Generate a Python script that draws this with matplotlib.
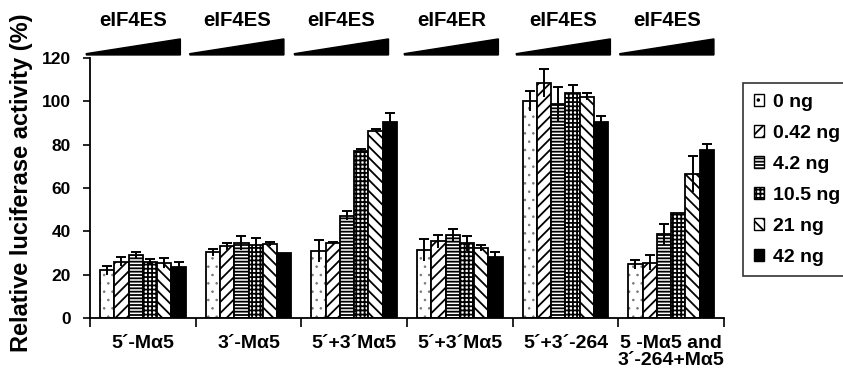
import numpy as np
import matplotlib.pyplot as plt
from matplotlib.patches import Polygon, Patch

plt.rcParams['font.family'] = ['Liberation Sans', 'DejaVu Sans']
plt.rcParams['font.weight'] = 'bold'
plt.rcParams['hatch.linewidth'] = 1.3

# constructs on the x axis
constructs = ["5´-Mα5", "3´-Mα5", "5´+3´Mα5", "5´+3´Mα5", "5´+3´-264",
              "5 -Mα5 and\n3´-264+Mα5"]
factors = ["eIF4ES", "eIF4ES", "eIF4ES", "eIF4ER", "eIF4ES", "eIF4ES"]
doses = ["0 ng", "0.42 ng", "4.2 ng", "10.5 ng", "21 ng", "42 ng"]

# luciferase activity (%) per dose, one value per construct
act_0 = [22.0, 30.3, 31.0, 31.4, 100.3, 24.8]
act_042 = [26.0, 33.0, 34.5, 35.5, 108.3, 25.5]
act_42 = [29.0, 34.5, 47.2, 38.3, 98.7, 38.6]
act_105 = [25.8, 33.7, 77.3, 34.5, 103.7, 48.6]
act_21 = [25.5, 34.0, 86.5, 32.2, 102.1, 66.5]
act_420 = [23.5, 30.2, 90.5, 28.3, 90.6, 77.5]

err_0 = [2.0, 1.5, 5.0, 5.0, 4.6, 2.0]
err_042 = [2.0, 1.8, 0.5, 3.0, 6.5, 3.5]
err_42 = [1.5, 3.3, 2.0, 2.8, 8.0, 5.0]
err_105 = [1.5, 3.3, 0.7, 3.5, 4.0, 0.0]
err_21 = [2.3, 1.0, 0.5, 1.5, 1.6, 8.3]
err_420 = [2.3, 0.0, 4.0, 2.3, 2.4, 3.0]

values = [act_0, act_042, act_42, act_105, act_21, act_420]
errors = [err_0, err_042, err_42, err_105, err_21, err_420]
hatches = ["..", "///", "-----", "++++", "\\\\\\", None]
faces = ["white", "white", "white", "white", "white", "black"]

# horizontal shift of each dose wedge relative to its group centre
wedge_shift = [-0.09, -0.11, -0.12, -0.08, -0.02, -0.04]

fig = plt.figure(figsize=(8.43, 3.79), dpi=100)
ax = fig.add_axes([0.1068, 0.161, 0.752, 0.686])

x = np.arange(len(constructs))
width = 0.135
for i, (vals, errs) in enumerate(zip(values, errors)):
    pos = x + (i - 2.5) * width
    if i == 0:
        # fine grey stipple, outline drawn on top
        with plt.rc_context({'hatch.linewidth': 0.6}):
            ax.bar(pos, vals, width, color="white", edgecolor="#777777",
                   linewidth=0, hatch=hatches[i], zorder=2)
        ax.bar(pos, vals, width, color="none", edgecolor="black",
               linewidth=1.3, zorder=2)
    else:
        ax.bar(pos, vals, width, color=faces[i], edgecolor="black",
               linewidth=1.3, hatch=hatches[i], zorder=2)
    ax.errorbar(pos, vals, yerr=errs, fmt="none", ecolor="black",
                elinewidth=1.4, capsize=0, zorder=3)
    top = np.array(vals) + np.array(errs)
    has_err = np.array(errs) > 0
    ax.plot(pos[has_err], top[has_err], linestyle="none", marker="_",
            markersize=7, markeredgewidth=1.4, color="black", zorder=3,
            clip_on=False)

ax.set_xlim(-0.5, len(constructs) - 0.5)
ax.set_ylim(0, 120)
ax.set_yticks(np.arange(0, 121, 20))
ax.tick_params(axis="y", labelsize=12.5, length=5, width=1.2,
               direction="out", pad=9)
ax.set_xticks(x)
ax.set_xticklabels(constructs, fontsize=14, linespacing=1.05)
ax.tick_params(axis="x", which="major", length=0, pad=12)
ax.set_xticks(np.arange(-0.5, len(constructs)), minor=True)
ax.tick_params(axis="x", which="minor", length=6.5, width=1.2,
               direction="out")
for s in ("top", "right"):
    ax.spines[s].set_visible(False)
for s in ("left", "bottom"):
    ax.spines[s].set_linewidth(1.3)

fig.text(22 / 843, 0.518, "Relative luciferase activity (%)", rotation=90,
         ha="center", va="center", fontsize=17, fontweight="bold")

# factor titles and increasing-dose wedges above each group
for xi, name, dx in zip(x, factors, wedge_shift):
    x0, x1 = xi + dx - 0.445, xi + dx + 0.445
    wedge = Polygon([(x0, 121.4), (x1, 121.4), (x1, 128.8), (x0, 122.0)],
                    closed=True, facecolor="black", edgecolor="black",
                    linewidth=1, clip_on=False, transform=ax.transData)
    ax.add_patch(wedge)
    ax.text((x0 + x1) / 2, 137.5, name, ha="center", va="center",
            fontsize=14.7, fontweight="bold", clip_on=False)

handles = [Patch(facecolor=f, edgecolor="black", linewidth=1.0, hatch=h,
                 label=d) for f, h, d in zip(faces, hatches, doses)]
leg = fig.legend(handles=handles, loc="upper left",
                 bbox_to_anchor=(743 / 843, 1 - 83 / 379),
                 fontsize=14, frameon=True, fancybox=False,
                 handlelength=0.55, handleheight=0.55, handletextpad=0.45,
                 labelspacing=0.72, borderpad=0.55, borderaxespad=0)
leg.get_frame().set_edgecolor("black")
leg.get_frame().set_linewidth(1.2)

fig.savefig("out.png", dpi=100)
